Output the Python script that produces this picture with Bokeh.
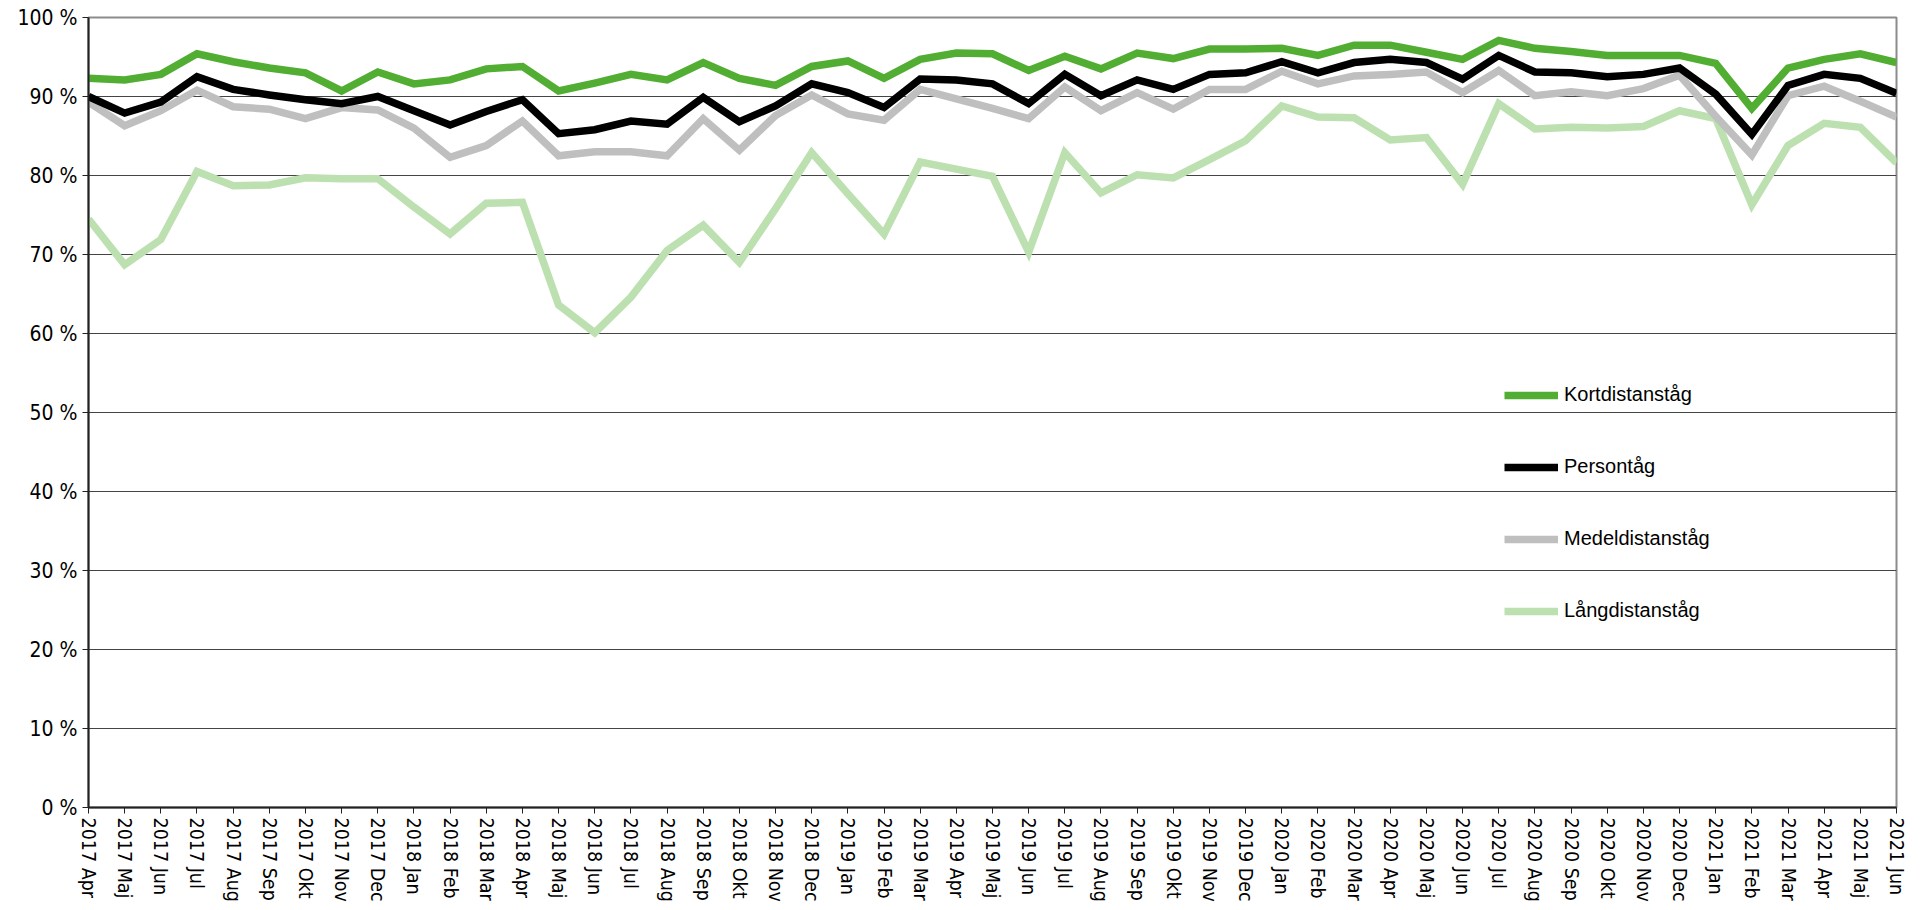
import math
from bokeh.plotting import figure
from bokeh.models import (Range1d, FixedTicker, PrintfTickFormatter, Legend, LegendItem)
from bokeh.embed import file_html
from bokeh.resources import INLINE

years_months = [
    "2017 Apr", "2017 Maj", "2017 Jun", "2017 Jul", "2017 Aug", "2017 Sep", "2017 Okt", "2017 Nov", "2017 Dec",
    "2018 Jan", "2018 Feb", "2018 Mar", "2018 Apr", "2018 Maj", "2018 Jun", "2018 Jul", "2018 Aug", "2018 Sep",
    "2018 Okt", "2018 Nov", "2018 Dec",
    "2019 Jan", "2019 Feb", "2019 Mar", "2019 Apr", "2019 Maj", "2019 Jun", "2019 Jul", "2019 Aug", "2019 Sep",
    "2019 Okt", "2019 Nov", "2019 Dec",
    "2020 Jan", "2020 Feb", "2020 Mar", "2020 Apr", "2020 Maj", "2020 Jun", "2020 Jul", "2020 Aug", "2020 Sep",
    "2020 Okt", "2020 Nov", "2020 Dec",
    "2021 Jan", "2021 Feb", "2021 Mar", "2021 Apr", "2021 Maj", "2021 Jun",
]

kortdistans = [
    92.3, 92.1, 92.8, 95.4, 94.4, 93.6, 93.0, 90.7, 93.1, 91.6, 92.1, 93.5, 93.8, 90.7, 91.7, 92.8,
    92.1, 94.3, 92.3, 91.4, 93.8, 94.5, 92.3, 94.7, 95.5, 95.4, 93.3, 95.1, 93.5, 95.5, 94.8, 96.0,
    96.0, 96.1, 95.2, 96.5, 96.5, 95.6, 94.7, 97.1, 96.1, 95.7, 95.2, 95.2, 95.2, 94.2, 88.5, 93.6,
    94.7, 95.4, 94.3,
]

persontag = [
    90.0, 87.9, 89.3, 92.5, 90.9, 90.2, 89.6, 89.1, 90.0, 88.2, 86.4, 88.1, 89.6, 85.3, 85.8, 86.9,
    86.5, 89.9, 86.8, 88.8, 91.6, 90.5, 88.6, 92.2, 92.1, 91.6, 89.1, 92.8, 90.1, 92.1, 90.9, 92.8,
    93.0, 94.4, 93.0, 94.3, 94.7, 94.3, 92.2, 95.2, 93.1, 93.0, 92.5, 92.8, 93.6, 90.3, 85.2, 91.4,
    92.8, 92.3, 90.4,
]

medeldistans = [
    89.3, 86.3, 88.2, 90.8, 88.7, 88.4, 87.2, 88.6, 88.3, 86.0, 82.3, 83.8, 86.9, 82.5, 83.0, 83.0,
    82.5, 87.2, 83.2, 87.6, 90.2, 87.8, 87.0, 90.9, 89.7, 88.5, 87.2, 91.2, 88.2, 90.5, 88.4, 90.9,
    90.9, 93.2, 91.6, 92.6, 92.8, 93.1, 90.5, 93.3, 90.1, 90.6, 90.1, 91.0, 92.7, 87.5, 82.6, 90.1,
    91.3, 89.4, 87.4,
]

langdistans = [
    74.5, 68.7, 71.9, 80.5, 78.7, 78.8, 79.7, 79.6, 79.6, 76.0, 72.6, 76.5, 76.6, 63.6, 60.1, 64.6,
    70.5, 73.7, 69.0, 75.8, 82.9, 77.7, 72.6, 81.7, 80.8, 79.9, 70.3, 82.9, 77.8, 80.1, 79.7, 82.0,
    84.4, 88.8, 87.4, 87.3, 84.5, 84.8, 78.9, 89.1, 85.9, 86.1, 86.0, 86.2, 88.2, 87.2, 76.3, 83.8,
    86.6, 86.1, 81.6,
]

series = [
    ("Kortdistanståg", kortdistans, "#52AE32"),
    ("Persontåg", persontag, "#000000"),
    ("Medeldistanståg", medeldistans, "#BFBFBF"),
    ("Långdistanståg", langdistans, "#BCE0B0"),
]

y_ticks = list(range(0, 101, 10))

x = list(range(len(years_months)))

p = figure(
    width=1920, height=910,
    x_range=Range1d(0, len(years_months) - 1),
    y_range=Range1d(0, 100),
    output_backend="svg", toolbar_location=None,
    min_border_left=88, min_border_right=24, min_border_top=17, min_border_bottom=103,
    background_fill_color="white", border_fill_color="white",
)

# draw order: grey and light green under black and green
renderers = {}
for name, vals, color in [series[3], series[2], series[1], series[0]]:
    renderers[name] = p.line(x, vals, line_color=color, line_width=7.5, line_join="miter")

p.xaxis.ticker = FixedTicker(ticks=x)
p.xaxis.major_label_overrides = {i: lab for i, lab in enumerate(years_months)}
p.xaxis.major_label_orientation = -math.pi / 2
p.xaxis.minor_tick_line_color = None
p.xaxis.major_tick_in = 0
p.xaxis.major_tick_out = 6
p.xaxis.axis_line_width = 2
p.xaxis.axis_line_color = "#222222"
p.xaxis.major_tick_line_color = "#222222"
p.xaxis.major_label_text_font_size = "19.5px"
p.xaxis.major_label_standoff = 4

p.yaxis.ticker = FixedTicker(ticks=y_ticks)
p.yaxis.formatter = PrintfTickFormatter(format="%d %%")
p.yaxis.minor_tick_line_color = None
p.yaxis.major_tick_in = 0
p.yaxis.major_tick_out = 6
p.yaxis.axis_line_width = 2
p.yaxis.axis_line_color = "#222222"
p.yaxis.major_tick_line_color = "#222222"
p.yaxis.major_label_text_font_size = "21px"
p.yaxis.major_label_standoff = 5

for ax in (p.xaxis, p.yaxis):
    ax.major_label_text_font = "DejaVu Sans Condensed"
    ax.major_label_text_color = "black"

p.xgrid.grid_line_color = None
p.ygrid.grid_line_color = "#444444"
p.ygrid.grid_line_width = 1

p.outline_line_color = "#8c8c8c"
p.outline_line_width = 2

legend = Legend(
    items=[LegendItem(label=name, renderers=[renderers[name]]) for name, _, _ in series],
    location=(1416, 185),
    orientation="vertical",
    glyph_width=54, glyph_height=20, label_height=20,
    label_standoff=6, spacing=49, padding=0, margin=0,
    label_text_font="Liberation Sans", label_text_font_size="20px",
    label_text_color="black",
    border_line_color=None, background_fill_alpha=0,
)
p.add_layout(legend)

open("out.html", "w").write(file_html(p, INLINE))
